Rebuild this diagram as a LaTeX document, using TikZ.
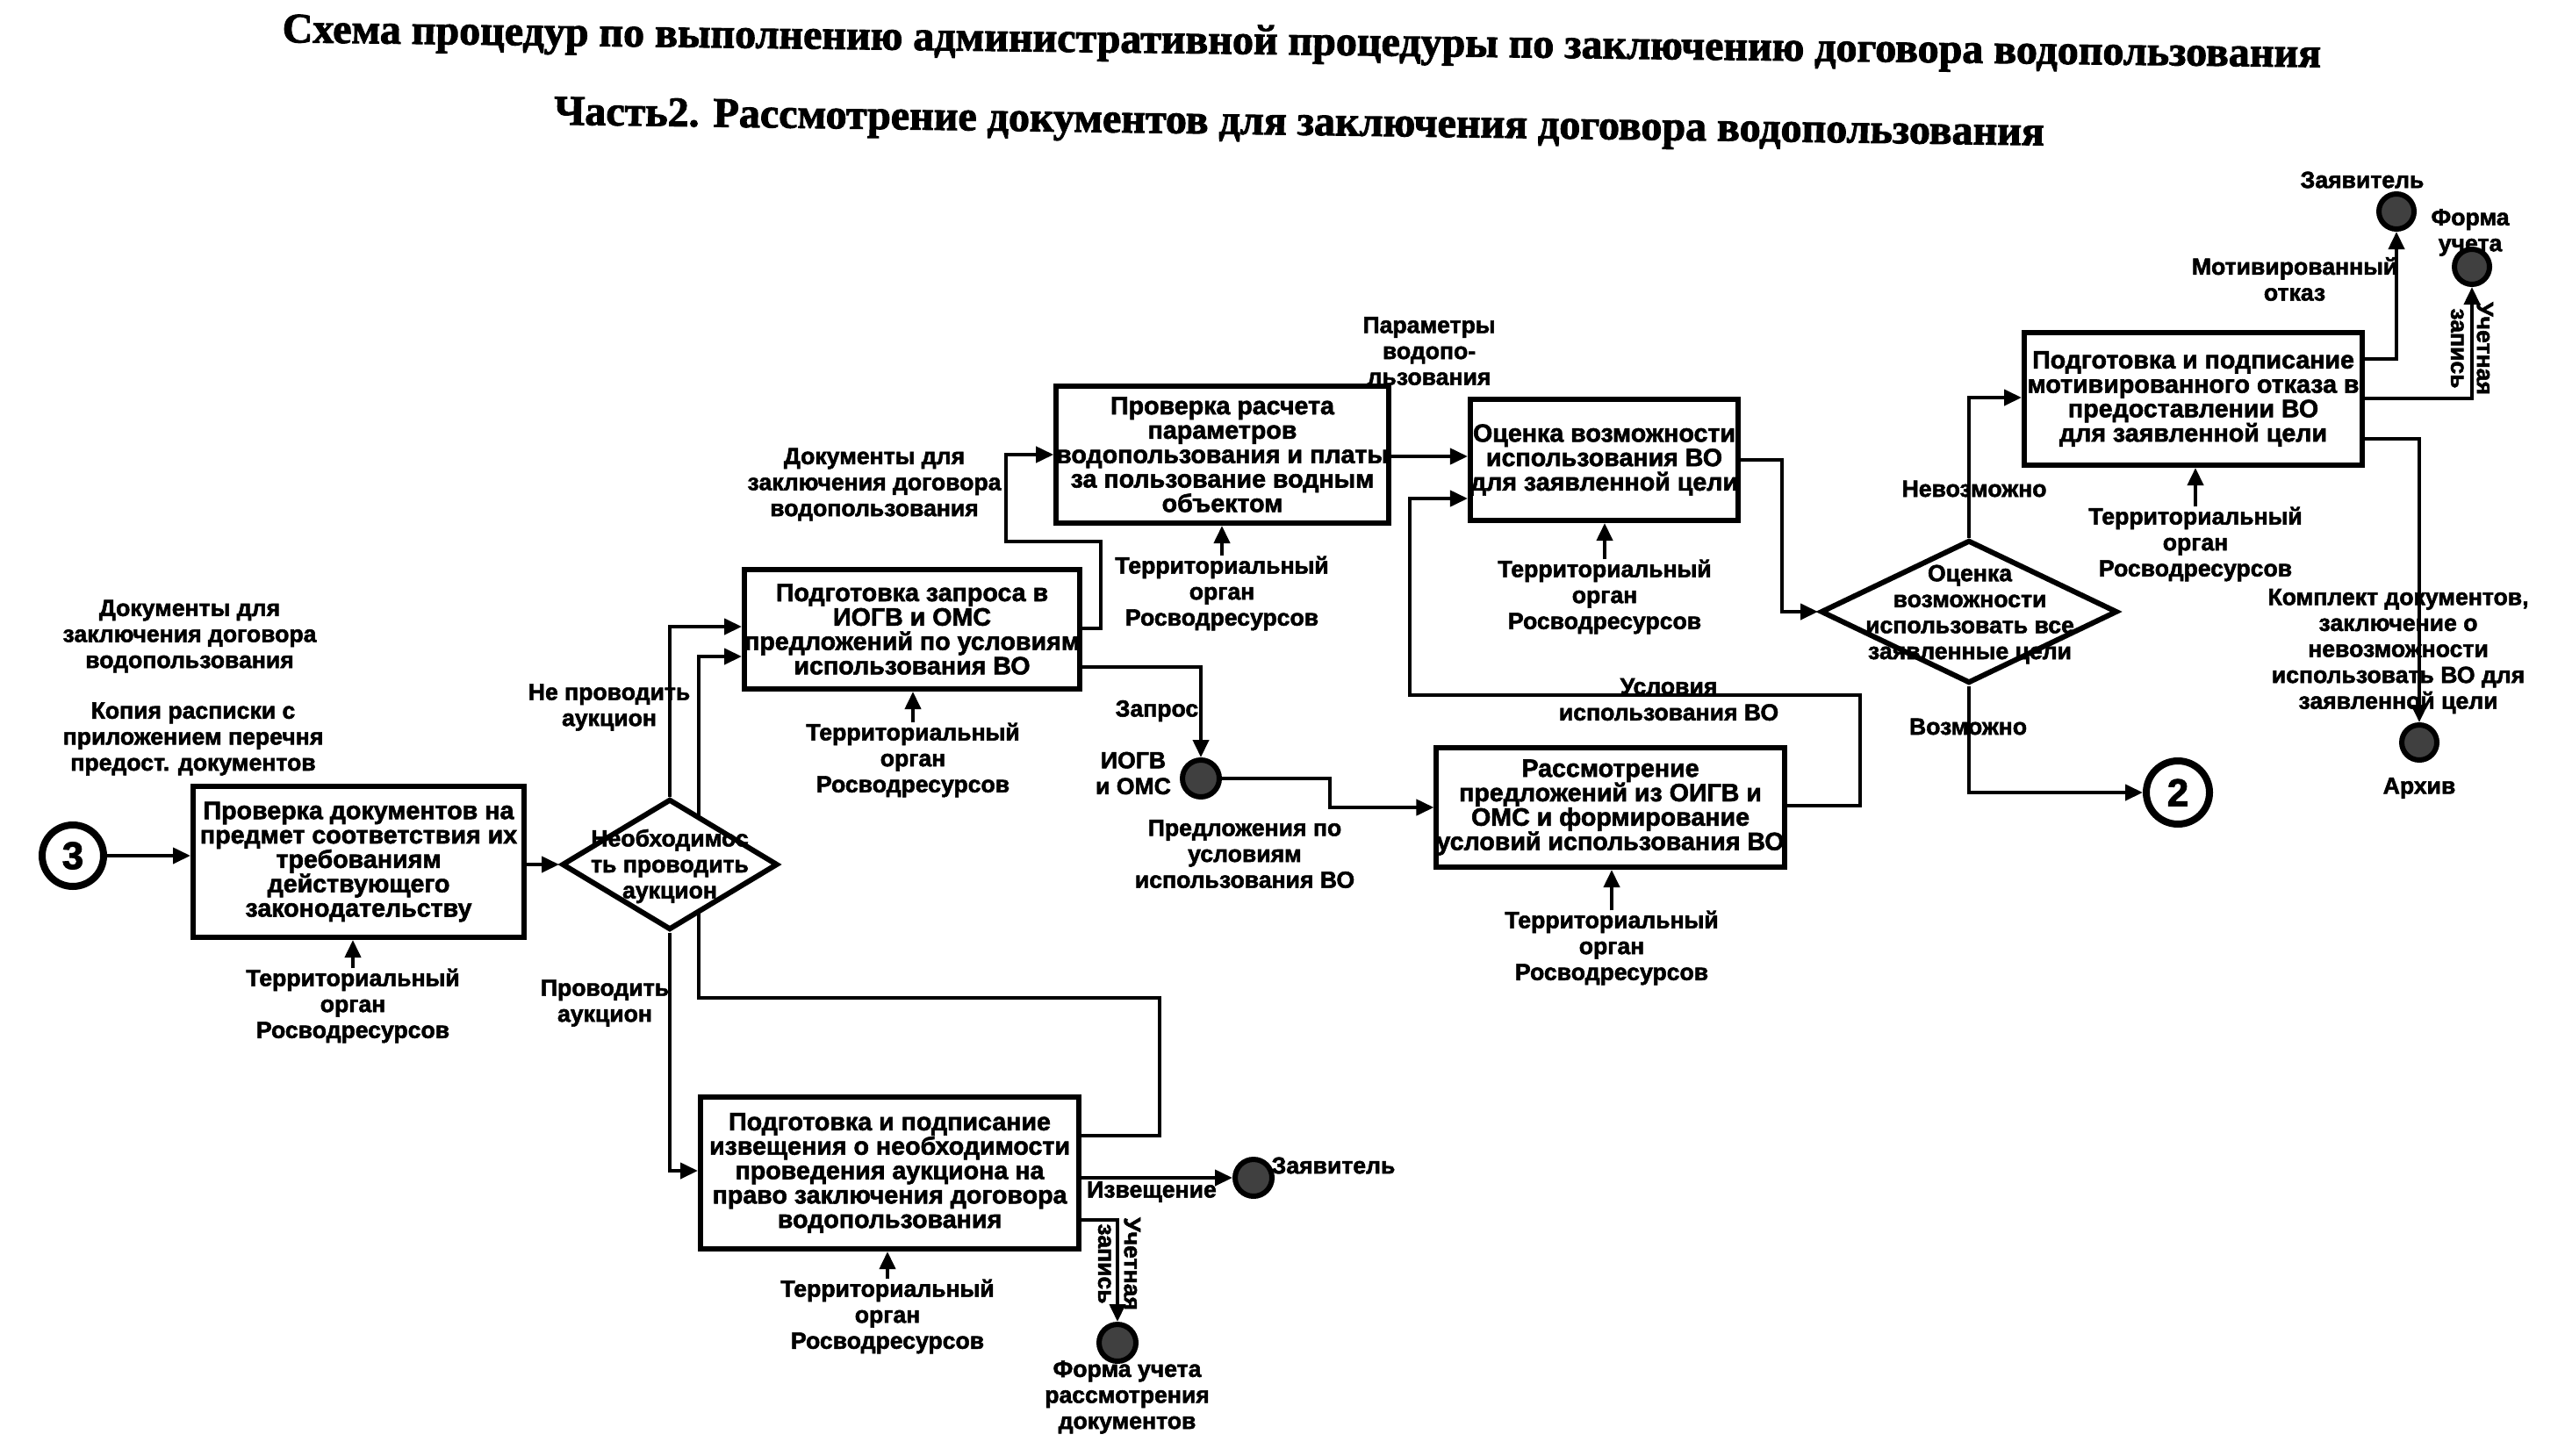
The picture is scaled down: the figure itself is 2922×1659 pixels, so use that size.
\documentclass[tikz,border=0pt]{standalone}
\usepackage{fontspec}
\setmainfont{Liberation Sans}[BoldFeatures={FakeBold=2}]
\newfontfamily\titlefont{Liberation Serif}[BoldFeatures={FakeBold=2}]
\usetikzlibrary{arrows.meta,shapes.geometric,backgrounds}
\newcommand\myboxfont{\fontsize{14.3pt}{13.9pt}\selectfont\bfseries}
\newcommand\mylblfont{\fontsize{13.3pt}{14.8pt}\selectfont\bfseries}
\newcommand\mytitlefont{\titlefont\fontsize{24pt}{26pt}\selectfont\bfseries}
\tikzset{
  procbox/.style={draw, line width=3pt, fill=white, align=center, inner sep=0pt, font=\myboxfont},
  decision/.style={diamond, draw, line width=3pt, fill=white, inner sep=0pt},
  lbl/.style={align=center, inner sep=0pt, font=\mylblfont},
  titlestyle/.style={inner sep=0pt, font=\mytitlefont},
  conn/.style={line width=2pt, line join=miter},
  arr/.style={conn, -{Triangle[length=10pt,width=9pt]}},
  startcirc/.style={circle, draw, line width=4pt, fill=white, inner sep=0pt, font=\fontsize{22pt}{22pt}\selectfont\bfseries},
  dotcirc/.style={circle, draw, line width=3pt, fill=black!75, inner sep=0pt, minimum size=21pt}
}
\begin{document}
\begin{tikzpicture}[x=0.5pt,y=-0.5pt]
\useasboundingbox (0,0) rectangle (2922,1659);

% titles
\node[titlestyle, rotate=-0.7] (title1) at (1483,51) {Схема процедур по выполнению административной процедуры по заключению договора водопользования};
\node[titlestyle, rotate=-0.8] (title2) at (1480,143) {Часть2. Рассмотрение документов для заключения договора водопользования};

% process boxes
\node[procbox, minimum width=188.5pt, minimum height=86pt] (b1) at (408.5,982) {Проверка документов на\\предмет соответствия их\\требованиям\\действующего\\законодательству};
\node[procbox, minimum width=187pt, minimum height=68pt] (b2) at (1039,717) {Подготовка запроса в\\ИОГВ и ОМС\\предложений по условиям\\использования ВО};
\node[procbox, minimum width=215.5pt, minimum height=86.5pt] (b3) at (1013.5,1336.5) {Подготовка и подписание\\извещения о необходимости\\проведения аукциона на\\право заключения договора\\водопользования};
\node[procbox, minimum width=186.5pt, minimum height=78pt] (b4) at (1392.5,518) {Проверка расчета\\параметров\\водопользования и платы\\за пользование водным\\объектом};
\node[procbox, minimum width=152.5pt, minimum height=69pt] (b5) at (1827.5,524) {Оценка возможности\\использования ВО\\для заявленной цели};
\node[procbox, minimum width=192.5pt, minimum height=68pt] (b6) at (1834.5,920) {Рассмотрение\\предложений из ОИГВ и\\ОМС и формирование\\условий использования ВО};
\node[procbox, minimum width=192.5pt, minimum height=75.5pt] (b7) at (2498.5,454.5) {Подготовка и подписание\\мотивированного отказа в\\предоставлении ВО\\для заявленной цели};

% decisions
\node[decision, minimum width=123pt, minimum height=74.5pt] (d1) at (763,985) {};
\node[decision, minimum width=169pt, minimum height=81.5pt] (d2) at (2243,697) {};
\node[lbl] (d1t) at (763,987) {Необходимос\\ть проводить\\аукцион};
\node[lbl] (d2t) at (2244,700) {Оценка\\возможности\\использовать все\\заявленные цели};

% circles
\node[startcirc, minimum size=35pt] (c3) at (83,975) {3};
\node[startcirc, minimum size=36pt] (c2) at (2481,903) {2};
\node[dotcirc] (cNOGV) at (1368,887) {};
\node[dotcirc] (cZ1) at (1428,1342) {};
\node[dotcirc] (cF1) at (1273,1530) {};
\node[dotcirc, minimum size=20pt] (cZ2) at (2730,241) {};
\node[dotcirc, minimum size=20pt] (cF2) at (2816,304) {};
\node[dotcirc, minimum size=20pt] (cA) at (2756,846) {};

% labels
\node[lbl] (ldocs1) at (216,725) {Документы для\\заключения договора\\водопользования};
\node[lbl] (lkop) at (220,842) {Копия расписки с\\приложением перечня\\предост. документов};
\node[lbl] (t1) at (402,1146) {Территориальный\\орган\\Росводресурсов};
\node[lbl] (lnepr) at (694,806) {Не проводить\\аукцион};
\node[lbl] (lpr) at (689,1143) {Проводить\\аукцион};
\node[lbl] (t2) at (1040,866) {Территориальный\\орган\\Росводресурсов};
\node[lbl] (ldocs2) at (996,552) {Документы для\\заключения договора\\водопользования};
\node[lbl] (t4) at (1392,676) {Территориальный\\орган\\Росводресурсов};
\node[lbl] (lparam) at (1628,400) {Параметры\\водопо-\\льзования};
\node[lbl] (lzapr) at (1318,810) {Запрос};
\node[lbl] (lnogv) at (1291,881) {ИОГВ\\и ОМС};
\node[lbl] (lpredl) at (1418,973) {Предложения по\\условиям\\использования ВО};
\node[lbl] (t6) at (1836,1080) {Территориальный\\орган\\Росводресурсов};
\node[lbl] (t5) at (1828,680) {Территориальный\\орган\\Росводресурсов};
\node[lbl] (lusl) at (1901,797) {Условия\\использования ВО};
\node[lbl] (t7) at (2501,620) {Территориальный\\орган\\Росводресурсов};
\node[lbl] (lnev) at (2249,557) {Невозможно};
\node[lbl] (lvoz) at (2242,828) {Возможно};
\node[lbl] (lmot) at (2614,318) {Мотивированный\\отказ};
\node[lbl] (lzay2) at (2691,205) {Заявитель};
\node[lbl] (lform2) at (2814,265) {Форма\\учета};
\node[lbl, rotate=-90] (luch2) at (2816,397) {Учетная\\запись};
\node[lbl] (lkompl) at (2732,742) {Комплект документов,\\заключение о\\невозможности\\использовать ВО для\\заявленной цели};
\node[lbl] (larch) at (2756,898) {Архив};
\node[lbl] (lizv) at (1312,1358) {Извещение};
\node[lbl] (lzay1) at (1519,1328) {Заявитель};
\node[lbl, rotate=-90] (luch1) at (1275,1440) {Учетная\\запись};
\node[lbl] (lform1) at (1284,1592) {Форма учета\\рассмотрения\\документов};
\node[lbl] (t3) at (1011,1500) {Территориальный\\орган\\Росводресурсов};

% connectors
\begin{scope}[on background layer]
\fill[white] (0,0) rectangle (2922,1659);
\draw[arr] (c3) -- (c3 -| b1.west);
\draw[arr] (b1.east |- d1.west) -- (d1.west);
\draw[arr] (d1.north) |- (b2.west |- 0,714);
\draw[arr] (b3.east |- 0,1294) -- (1321,1294) -- (1321,1137) -- (796,1137) -- (796,748) -- (b2.west |- 0,748);
\draw[arr] (d1.south) |- (b3.west |- 0,1334);
\draw[arr] (b2.east |- 0,716) -- (1254,716) -- (1254,617) -- (1146,617) -- (1146,518) -- (b4.west |- 0,518);
\draw[arr] (b2.east |- 0,760) -| (cNOGV.north);
\draw[arr] (cNOGV.east) -- (1515,887) -- (1515,920) -- (b6.west |- 0,920);
\draw[arr] (b6.east |- 0,918) -- (2119,918) -- (2119,792) -- (1606,792) -- (1606,568) -- (b5.west |- 0,568);
\draw[arr] (b4.east |- 0,520) -- (b5.west |- 0,520);
\draw[arr] (b5.east |- 0,524) -- (2030,524) -- (2030,697) -- (d2.west);
\draw[arr] (d2.north) |- (b7.west |- 0,453);
\draw[arr] (d2.south) |- (c2.west);
\draw[arr] (b7.east |- 0,409) -| (cZ2.south);
\draw[arr] (b7.east |- 0,454) -| (cF2.south);
\draw[arr] (b7.east |- 0,500) -| (cA.north);
\draw[arr] (b3.east |- cZ1) -- (cZ1.west);
\draw[arr] (b3.east |- 0,1390) -| (cF1.north);
\draw[arr] (t1.north) -- (t1.north |- b1.south);
\draw[arr] (t2.north) -- (t2.north |- b2.south);
\draw[arr] (t3.north) -- (t3.north |- b3.south);
\draw[arr] (t4.north) -- (t4.north |- b4.south);
\draw[arr] (t5.north) -- (t5.north |- b5.south);
\draw[arr] (t6.north) -- (t6.north |- b6.south);
\draw[arr] (t7.north) -- (t7.north |- b7.south);
\end{scope}
\end{tikzpicture}
\end{document}
